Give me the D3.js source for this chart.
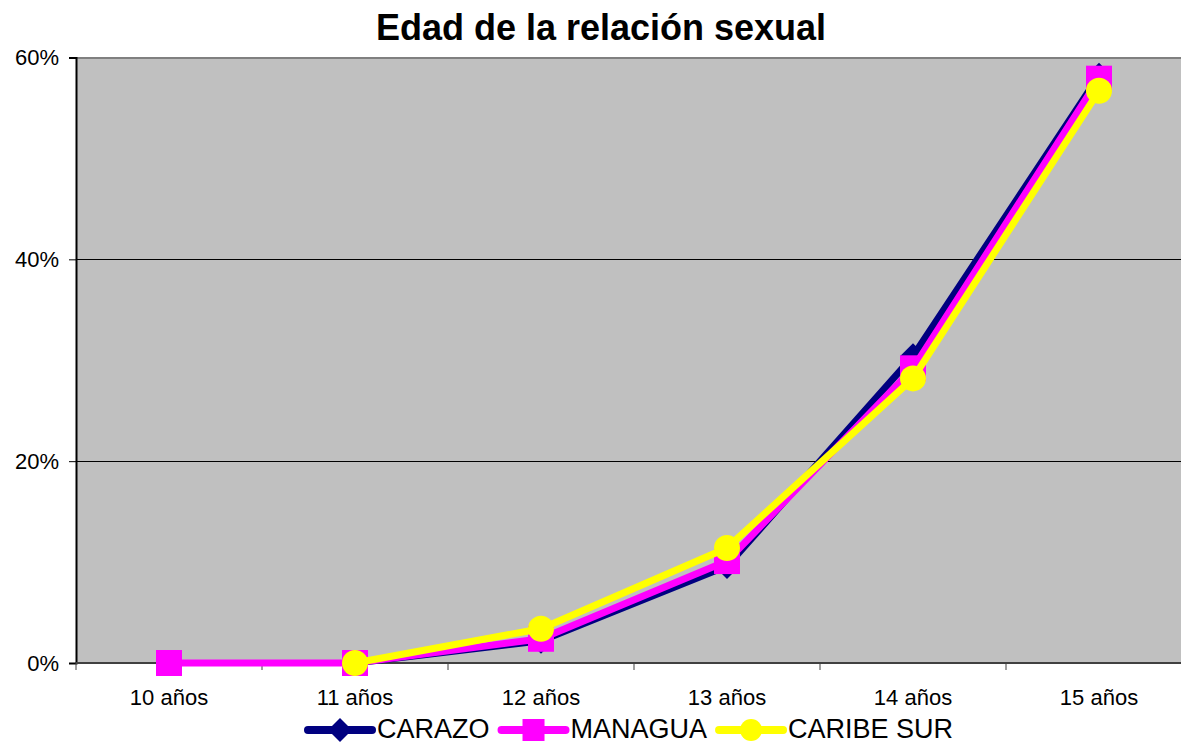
<!DOCTYPE html>
<html>
<head>
<meta charset="utf-8">
<script src="https://cdn.jsdelivr.net/npm/d3@7"></script>
<style>
  html, body { margin: 0; padding: 0; background: #fff; overflow: hidden; }
  svg { display: block; font-family: Arial, "Liberation Sans", sans-serif; }
</style>
</head>
<body>
<svg id="chart" width="1181" height="744"></svg>
<script>
const categories = ["10 años", "11 años", "12 años", "13 años", "14 años", "15 años"];
const carazo    = [null, 0.000, 0.022, 0.096, 0.304, 0.582];
const managua   = [0.000, 0.000, 0.024, 0.101, 0.292, 0.579];
const caribeSur = [null, 0.000, 0.034, 0.114, 0.282, 0.567];
const yTicks = [0, 0.2, 0.4, 0.6];
const seriesNames = ["CARAZO", "MANAGUA", "CARIBE SUR"];
const titleText = "Edad de la relación sexual";

const series = [
  { name: seriesNames[0], values: carazo,    color: "#000080", marker: "diamond" },
  { name: seriesNames[1], values: managua,   color: "#FF00FF", marker: "square" },
  { name: seriesNames[2], values: caribeSur, color: "#FFFF00", marker: "circle" }
];

const svg = d3.select("#chart");
const pLeft = 76, pRight = 1192, pTop = 57.5, pBottom = 663;

const x = d3.scaleBand().domain(categories).range([pLeft, pRight]).padding(0);
const y = d3.scaleLinear().domain([0, 0.6]).range([pBottom, pTop]);

// plot background
svg.append("rect").attr("x", pLeft).attr("y", pTop)
  .attr("width", pRight - pLeft).attr("height", pBottom - pTop)
  .attr("fill", "#C0C0C0");

// gridlines
svg.append("g").selectAll("line").data(yTicks.filter(d => d > 0)).join("line")
  .attr("x1", pLeft).attr("x2", pRight)
  .attr("y1", d => y(d)).attr("y2", d => y(d))
  .attr("stroke", d => d === 0.6 ? "#808080" : "#000")
  .attr("stroke-width", d => d === 0.6 ? 2 : 1)
  .attr("shape-rendering", "crispEdges");

// y axis
const yAxis = d3.axisLeft(y).tickValues(yTicks).tickFormat(d3.format(".0%"))
  .tickSize(7).tickPadding(10);
const gy = svg.append("g").attr("transform", `translate(${pLeft},0)`).call(yAxis);
gy.select(".domain").attr("stroke", "#000").attr("stroke-width", 2);
gy.selectAll(".tick line").attr("stroke", "#000");
gy.selectAll("text").attr("font-size", 22).attr("fill", "#000")
  .attr("font-family", "Arial, 'Liberation Sans', sans-serif");

// x axis (ticks at band boundaries)
const gx = svg.append("g").attr("transform", `translate(0,${pBottom})`);
gx.append("line").attr("x1", pLeft).attr("x2", pRight).attr("y1", 0).attr("y2", 0)
  .attr("stroke", "#404040").attr("stroke-width", 2);
const bounds = categories.map(c => x(c)).concat([pRight]);
gx.selectAll("line.tk").data(bounds).join("line").attr("class", "tk")
  .attr("x1", d => d).attr("x2", d => d).attr("y1", 0).attr("y2", 7)
  .attr("stroke", "#404040").attr("stroke-width", 1);
gx.selectAll("text").data(categories).join("text")
  .attr("x", d => x(d) + x.bandwidth() / 2).attr("y", 42)
  .attr("text-anchor", "middle").attr("font-size", 22).attr("fill", "#000")
  .text(d => d);

// series
function drawMarker(g, type, cx, cy, size, color) {
  if (type === "square") {
    g.append("rect").attr("x", cx - size / 2).attr("y", cy - size / 2)
      .attr("width", size).attr("height", size).attr("fill", color);
  } else if (type === "circle") {
    g.append("circle").attr("cx", cx).attr("cy", cy).attr("r", size / 2).attr("fill", color);
  } else {
    const h = size / 2;
    g.append("path").attr("d", `M${cx},${cy - h}L${cx + h},${cy}L${cx},${cy + h}L${cx - h},${cy}Z`)
      .attr("fill", color);
  }
}

const cxOf = c => x(c) + x.bandwidth() / 2;
series.forEach(s => {
  const g = svg.append("g");
  const pts = categories.map((c, i) => ({ c, v: s.values[i] }));
  const line = d3.line().defined(d => d.v !== null).x(d => cxOf(d.c)).y(d => y(d.v));
  g.append("path").attr("d", line(pts)).attr("fill", "none")
    .attr("stroke", s.color).attr("stroke-width", 7).attr("stroke-linejoin", "round");
  pts.filter(d => d.v !== null).forEach(d => {
    drawMarker(g, s.marker, cxOf(d.c), y(d.v), 26, s.color);
  });
});

// title
svg.append("text").attr("x", 601).attr("y", 40).attr("text-anchor", "middle")
  .attr("font-size", 36).attr("font-weight", "bold").attr("fill", "#000")
  .text(titleText);

// legend
const lg = svg.append("g");
let lx = 308;
const ly = 730;
series.forEach(s => {
  lg.append("line").attr("x1", lx).attr("x2", lx + 64).attr("y1", ly).attr("y2", ly)
    .attr("stroke", s.color).attr("stroke-width", 8).attr("stroke-linecap", "round");
  drawMarker(lg, s.marker, lx + 32, ly, s.marker === "diamond" ? 24 : 22, s.color);
  const t = lg.append("text").attr("x", lx + 69).attr("y", ly + 8)
    .attr("font-size", 27).attr("fill", "#000").text(s.name);
  lx = lx + 69 + t.node().getComputedTextLength() + 12;
});
</script>
</body>
</html>
